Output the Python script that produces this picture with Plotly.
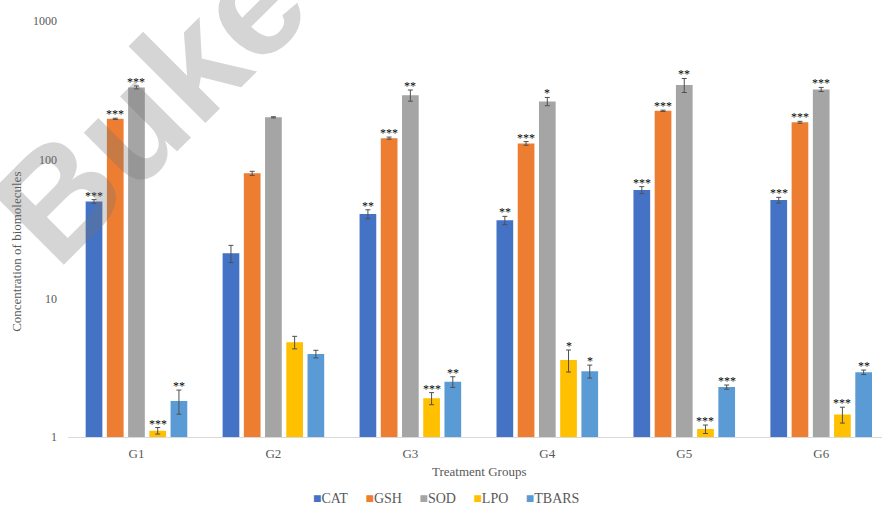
import math
import plotly.graph_objects as go

groups = ["G1", "G2", "G3", "G4", "G5", "G6"]
series_names = ["CAT", "GSH", "SOD", "LPO", "TBARS"]
colors = ["#4472C4", "#ED7D31", "#A5A5A5", "#FFC000", "#5B9BD5"]

cat = [50, 21.1, 40.5, 36.5, 60.4, 51.1]
cat_err = [1.5, 3.0, 3.0, 2.5, 3.5, 2.4]
gsh = [197, 79.7, 143, 131, 225, 186]
gsh_err = [2, 2.7, 2.5, 4, 2.5, 3]
sod = [332, 202, 291, 263, 345, 321]
sod_err = [8, 2, 27, 18, 40, 11]
lpo = [1.11, 4.82, 1.90, 3.59, 1.14, 1.45]
lpo_err = [0.06, 0.5, 0.19, 0.65, 0.08, 0.19]
tbars = [1.82, 3.97, 2.50, 2.98, 2.29, 2.93]
tbars_err = [0.36, 0.25, 0.22, 0.32, 0.08, 0.11]

cat_sig = ["***", "", "**", "**", "***", "***"]
gsh_sig = ["***", "", "***", "***", "***", "***"]
sod_sig = ["***", "", "**", "*", "**", "***"]
lpo_sig = ["***", "", "***", "*", "***", "***"]
tbars_sig = ["**", "", "**", "*", "***", "**"]

y_tick_vals = [1, 10, 100, 1000]
y_tick_text = ["1", "10", "100", "1000"]

values = [cat, gsh, sod, lpo, tbars]
errors = [cat_err, gsh_err, sod_err, lpo_err, tbars_err]
sigs = [cat_sig, gsh_sig, sod_sig, lpo_sig, tbars_sig]

pitch = 0.155
bar_w = 0.122
FONT = "Liberation Serif"

fig = go.Figure()
annotations = []
for j, name in enumerate(series_names):
    xs = [i + (j - 2) * pitch for i in range(len(groups))]
    fig.add_trace(go.Bar(
        x=xs, y=values[j], width=bar_w, name=name,
        marker=dict(color=colors[j], line=dict(width=0)),
        error_y=dict(type="data", array=errors[j], visible=True,
                     color="#505050", thickness=1, width=2.5),
        showlegend=False,
    ))
    for i, s in enumerate(sigs[j]):
        if s:
            annotations.append(dict(
                x=xs[i], y=math.log10(values[j][i] + errors[j][i]),
                xref="x", yref="y", text=s, showarrow=False,
                xanchor="center", yanchor="bottom", yshift=-5,
                font=dict(family=FONT, size=12, color="#000000"),
            ))

# legend as one line of text
sep = "\u00a0" * 5
legend_text = sep.join(
    f'<span style="color:{c}">■</span>{n}' for n, c in zip(series_names, colors)
)
annotations.append(dict(
    x=0.464, y=-0.147, xref="paper", yref="paper", text=legend_text,
    showarrow=False, xanchor="center", yanchor="middle",
    font=dict(family=FONT, size=14, color="#595959"),
))
annotations.append(dict(
    x=0.506, y=-0.082, xref="paper", yref="paper", text="Treatment Groups",
    showarrow=False, xanchor="center", yanchor="middle",
    font=dict(family=FONT, size=13, color="#595959"),
))
annotations.append(dict(
    x=-0.0627, y=0.445, xref="paper", yref="paper",
    text="Concentration of biomolecules", textangle=-90,
    showarrow=False, xanchor="center", yanchor="middle",
    font=dict(family=FONT, size=13, color="#595959"),
))
# watermark
annotations.append(dict(
    x=0.1007, y=0.798, xref="paper", yref="paper", text="<b>Buke</b>",
    textangle=-45, showarrow=False, xanchor="center", yanchor="middle",
    font=dict(family="Liberation Sans", size=150, color="rgba(115,115,115,0.3)"),
))

fig.update_layout(
    width=882, height=507,
    margin=dict(l=68, r=0, t=21, b=70),
    paper_bgcolor="white", plot_bgcolor="white",
    barmode="overlay",
    annotations=annotations,
    font=dict(family=FONT, color="#595959"),
    xaxis=dict(
        range=[-0.5, 5.444], tickmode="array",
        tickvals=list(range(len(groups))), ticktext=groups,
        showgrid=False, zeroline=False, showline=True,
        linecolor="#D9D9D9", linewidth=1, ticks="",
        tickfont=dict(family=FONT, size=13, color="#595959"),
        ticklabelstandoff=4,
    ),
    yaxis=dict(
        type="log", range=[0, 3], tickmode="array",
        tickvals=y_tick_vals, ticktext=y_tick_text,
        showgrid=False, zeroline=False, showline=False, ticks="",
        tickfont=dict(family=FONT, size=12, color="#595959"),
        ticklabelstandoff=10,
    ),
)

fig.write_html("out.html")
